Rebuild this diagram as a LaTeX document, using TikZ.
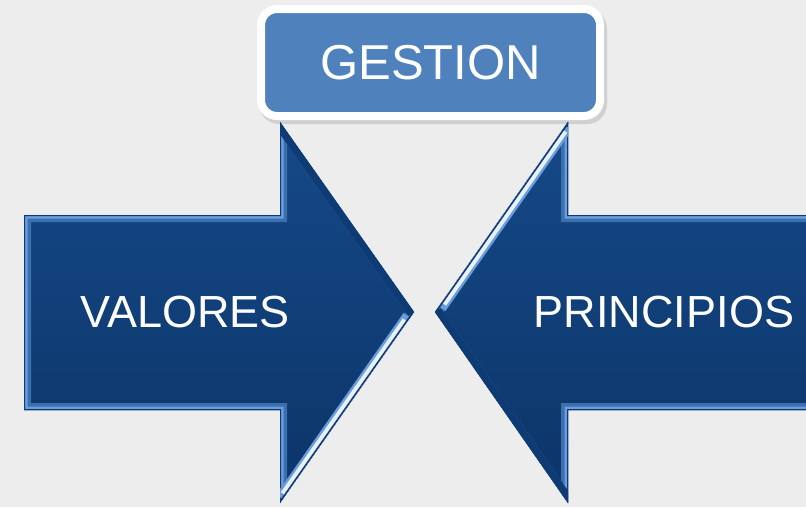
\documentclass[tikz,border=0pt]{standalone}
\usepackage{fontspec}
\setmainfont{Liberation Sans}
\usetikzlibrary{
    positioning,      % 相对定位
    calc              % 坐标计算
}
\definecolor{bggray}{HTML}{EDEDED}
\definecolor{gestblue}{HTML}{4F81BD}
\definecolor{arrtop}{HTML}{164A8A}
\definecolor{arrbot}{HTML}{0C3467}
\definecolor{bevlight}{HTML}{6A9DDB}
\definecolor{arrdark}{HTML}{0E3B74}

\begin{document}
\begin{tikzpicture}[
        x=1pt, y=-1pt,
        gestbox/.style={
            rectangle,
            rounded corners=16pt,
            draw=white,
            line width=8pt,
            fill=gestblue,
            minimum width=339pt,
            minimum height=107pt,
            inner sep=0pt,
            text=white,
            font=\fontsize{49}{58}\selectfont
        },
        arrowtext/.style={
            inner sep=0pt,
            text=white,
            font=\fontsize{45}{54}\selectfont
        },
        bevel/.style={
            line width=#1,
            line join=miter
        },
        shine/.style={
            line width=#1,
            draw=white!85!bevlight
        },
        shadow/.style={
            fill=black,
            opacity=0.18
        }
    ]
    % 背景
    \fill[bggray] (0,0) rectangle (806,507);
    \useasboundingbox (0,0) rectangle (806,507);

    % 左箭头坐标
    \coordinate (l1) at (24,215);
    \coordinate (l2) at (280,215);
    \coordinate (l3) at (280,122);
    \coordinate (l4) at (414,312);
    \coordinate (l5) at (280,503);
    \coordinate (l6) at (280,410);
    \coordinate (l7) at (24,410);

    % 右箭头坐标
    \coordinate (r1) at (830,215);
    \coordinate (r2) at (568,215);
    \coordinate (r3) at (568,122);
    \coordinate (r4) at (435,312);
    \coordinate (r5) at (568,503);
    \coordinate (r6) at (568,410);
    \coordinate (r7) at (830,410);

    % 阴影
    \fill[shadow, shift={(2,4)}] (l1) -- (l2) -- (l3) -- (l4) -- (l5) -- (l6) -- (l7) -- cycle;
    \fill[shadow, shift={(-2,4)}] (r1) -- (r2) -- (r3) -- (r4) -- (r5) -- (r6) -- (r7) -- cycle;

    % 左箭头
    \begin{scope}
        \clip (l1) -- (l2) -- (l3) -- (l4) -- (l5) -- (l6) -- (l7) -- cycle;
        \shade[top color=arrtop, bottom color=arrbot] (0,110) rectangle (840,507);
        \draw[bevel=14pt, bevlight!45!arrtop] (l1) -- (l2) -- (l3) -- (l4) -- (l5) -- (l6) -- (l7) -- cycle;
        \draw[bevel=7pt, bevlight] (l1) -- (l2) -- (l3) -- (l4) -- (l5) -- (l6) -- (l7) -- cycle;
        \draw[bevel=2pt, arrdark] (l1) -- (l2) -- (l3) -- (l4) -- (l5) -- (l6) -- (l7) -- cycle;
        \draw[line width=14pt, arrdark] (l3) -- (l4);
        \draw[shine=16pt, bevlight] ($(l4)!0.03!(l5)$) -- ($(l4)!0.98!(l5)$);
        \draw[shine=11pt] ($(l4)!0.05!(l5)$) -- ($(l4)!0.96!(l5)$);
        \draw[line width=3pt, arrdark] (l4) -- (l5);
    \end{scope}

    % 右箭头
    \begin{scope}
        \clip (r1) -- (r2) -- (r3) -- (r4) -- (r5) -- (r6) -- (r7) -- cycle;
        \shade[top color=arrtop, bottom color=arrbot] (400,110) rectangle (840,507);
        \draw[bevel=14pt, bevlight!45!arrtop] (r1) -- (r2) -- (r3) -- (r4) -- (r5) -- (r6) -- (r7) -- cycle;
        \draw[bevel=7pt, bevlight] (r1) -- (r2) -- (r3) -- (r4) -- (r5) -- (r6) -- (r7) -- cycle;
        \draw[bevel=2pt, arrdark] (r1) -- (r2) -- (r3) -- (r4) -- (r5) -- (r6) -- (r7) -- cycle;
        \draw[line width=14pt, arrdark] (r4) -- (r5);
        \draw[shine=16pt, bevlight] ($(r3)!0.02!(r4)$) -- ($(r3)!0.97!(r4)$);
        \draw[shine=11pt] ($(r3)!0.04!(r4)$) -- ($(r3)!0.95!(r4)$);
        \draw[line width=3pt, arrdark] (r3) -- (r4);
    \end{scope}

    % 文字
    \node[arrowtext] (valores) at (185,312) {VALORES};
    \node[arrowtext] (principios) at (664,312) {PRINCIPIOS};

    % 顶部标题框
    \fill[shadow, rounded corners=20pt, opacity=0.12] (259,9) rectangle (607,124);
    \node[gestbox] (gestion) at (430.5,62.5) {GESTION};
\end{tikzpicture}
\end{document}
